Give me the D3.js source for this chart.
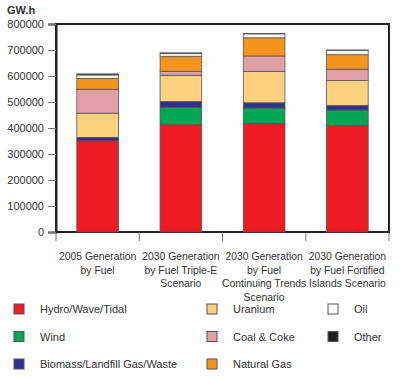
<!DOCTYPE html>
<html lang="en">
<head>
<meta charset="utf-8">
<title>Generation by Fuel</title>
<script src="https://d3js.org/d3.v7.min.js"></script>
<style>
    body { margin: 0; background: #fff; }
    text { font-family: "Liberation Sans", Arial, sans-serif; fill: #333; }
    .tick text { font-size: 11px; }
</style>
</head>
<body>
<div id="chart"></div>
<script>
    // categories (x axis), each label split in lines
    const categories = ["2005", "Triple-E", "Continuing", "Fortified"];
    const categoryLines = [
        ["2005 Generation", "by Fuel"],
        ["2030 Generation", "by Fuel Triple-E", "Scenario"],
        ["2030 Generation", "by Fuel", "Continuing Trends", "Scenario"],
        ["2030 Generation", "by Fuel Fortified", "Islands Scenario"]
    ];
    const fuels = ["Hydro/Wave/Tidal", "Wind", "Biomass/Landfill Gas/Waste",
                   "Uranium", "Coal & Coke", "Natural Gas", "Oil", "Other"];
    const colors = ["#ED1C24", "#00A651", "#2E3192", "#FED27E", "#E0A0A8", "#F7941D", "#FFFFFF", "#231F20"];

    // GW.h per fuel, one value per category
    const hydro    = [351000, 413000, 418000, 410000];
    const wind     = [0, 66000, 59000, 59000];
    const biomass  = [13000, 23000, 20000, 18000];
    const uranium  = [93000, 101000, 121000, 96000];
    const coal     = [92000, 15000, 59000, 43000];
    const gas      = [42000, 58000, 70000, 56000];
    const oil      = [13000, 10000, 15000, 17000];
    const other    = [4000, 3000, 1000, 1000];
    const yTicks = [0, 100000, 200000, 300000, 400000, 500000, 600000, 700000, 800000];

    const series = [hydro, wind, biomass, uranium, coal, gas, oil, other];
    const rows = categories.map((c, i) => {
        const r = {cat: c};
        fuels.forEach((f, j) => r[f] = series[j][i]);
        return r;
    });

    const W = 400, H = 379;
    const plotL = 56, plotR = 389, plotT = 24, plotB = 232;

    const svg = d3.select("#chart").append("svg")
        .attr("width", W)
        .attr("height", H);

    const x = d3.scaleBand()
        .domain(categories)
        .range([plotL, plotR])
        .paddingInner(0.5)
        .paddingOuter(0.25);

    const y = d3.scaleLinear()
        .domain([0, 800000])
        .range([plotB, plotT]);

    // frame
    svg.append("rect")
        .attr("x", plotL).attr("y", plotT)
        .attr("width", plotR - plotL).attr("height", plotB - plotT)
        .attr("fill", "none").attr("stroke", "#222").attr("stroke-width", 2);

    // bars
    const stacked = d3.stack().keys(fuels)(rows);
    svg.append("g")
        .selectAll("g")
        .data(stacked)
        .join("g")
        .attr("fill", (d, i) => colors[i])
        .selectAll("rect")
        .data(d => d)
        .join("rect")
        .attr("x", d => x(d.data.cat))
        .attr("y", d => y(d[1]))
        .attr("width", x.bandwidth())
        .attr("height", d => y(d[0]) - y(d[1]))
        .attr("stroke", "#555")
        .attr("stroke-width", 0.8);

    // y axis
    const yAxis = svg.append("g")
        .attr("transform", `translate(${plotL},0)`)
        .call(d3.axisLeft(y).tickValues(yTicks).tickFormat(d3.format("d")).tickSize(8).tickPadding(4));
    yAxis.select(".domain").attr("stroke", "#222").attr("stroke-width", 2);
    yAxis.selectAll(".tick line").attr("stroke", "#777");

    // x axis ticks at band boundaries
    const bounds = d3.range(categories.length + 1).map(i =>
        i === categories.length ? plotR : x(categories[i]) - x.step() * x.paddingInner() / 2);
    svg.append("g")
        .selectAll("line")
        .data(bounds)
        .join("line")
        .attr("x1", d => d).attr("x2", d => d)
        .attr("y1", plotB + 1).attr("y2", plotB + 9)
        .attr("stroke", "#777");

    // category labels
    svg.append("g")
        .selectAll("text")
        .data(categories)
        .join("text")
        .attr("x", d => x(d) + x.bandwidth() / 2)
        .attr("y", 260)
        .attr("text-anchor", "middle")
        .style("font-size", "10.4px")
        .selectAll("tspan")
        .data((d, i) => categoryLines[i])
        .join("tspan")
        .attr("x", function () { return this.parentNode.getAttribute("x"); })
        .attr("dy", (d, i) => i === 0 ? 0 : 13.7)
        .text(d => d);

    // unit
    svg.append("text")
        .attr("x", 7).attr("y", 14)
        .style("font-size", "11px")
        .style("font-weight", "bold")
        .text("GW.h");

    // legend
    const legX = [14, 207, 328];
    const legY = [309, 336.5, 364];
    const legendOrder = [[0, 1, 2], [3, 4, 5], [6, 7]];
    const leg = svg.append("g");
    legendOrder.forEach((col, ci) => {
        col.forEach((fi, ri) => {
            leg.append("rect")
                .attr("x", legX[ci]).attr("y", legY[ri] - 5)
                .attr("width", 10).attr("height", 10)
                .attr("fill", colors[fi])
                .attr("stroke", "#555").attr("stroke-width", 1);
            leg.append("text")
                .attr("x", legX[ci] + 26).attr("y", legY[ri] + 4)
                .style("font-size", "11px")
                .text(fuels[fi]);
        });
    });
</script>
</body>
</html>
